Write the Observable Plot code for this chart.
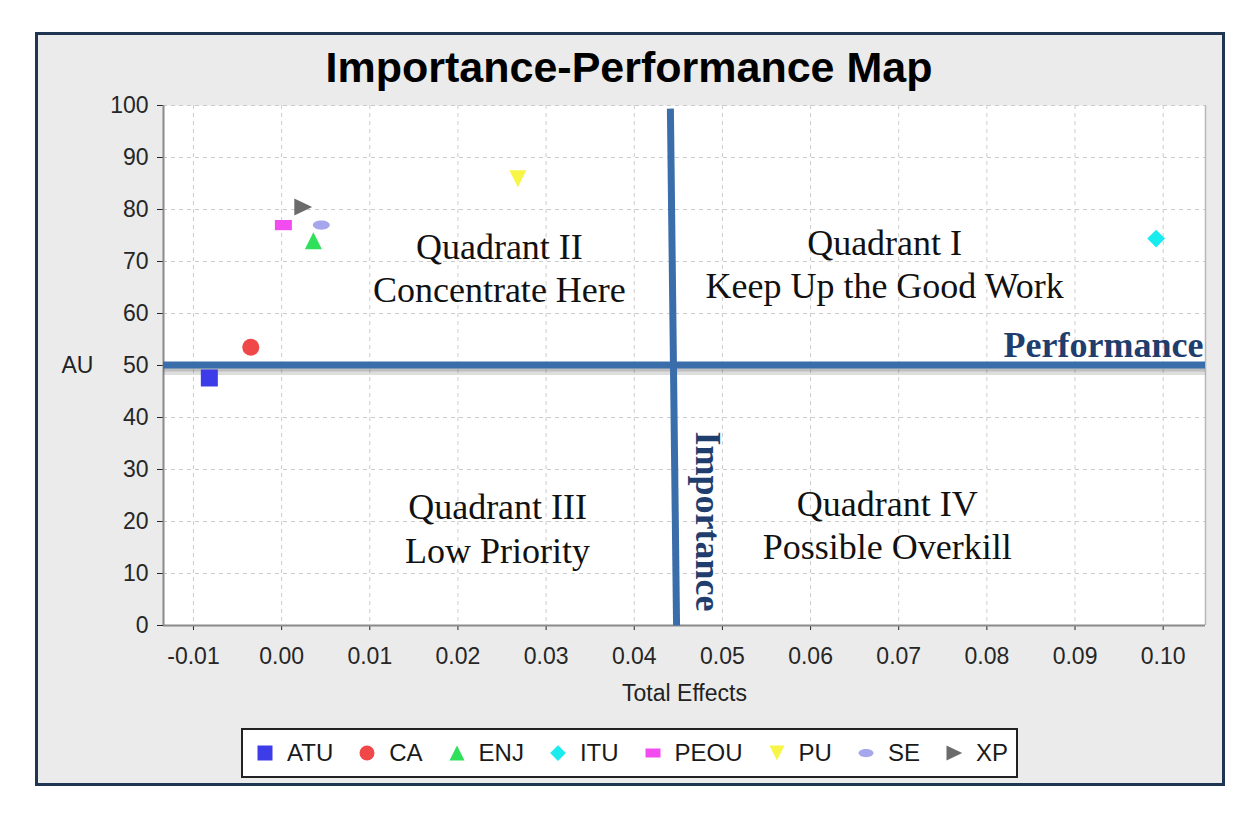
<!DOCTYPE html>
<html>
<head>
<meta charset="utf-8">
<script src="https://cdn.jsdelivr.net/npm/d3@7"></script>
<script src="https://cdn.jsdelivr.net/npm/@observablehq/plot@0.6"></script>
<style>
  html, body { margin: 0; padding: 0; background: #fff; width: 1252px; height: 815px; overflow: hidden; }
  #panel { position: absolute; left: 35px; top: 32px; width: 1184px; height: 748px; background: #ebebeb; border: 3px solid #1f3552; }
  #title { position: absolute; left: 36px; width: 1186px; top: 41px; text-align: center; font: 700 43px/52px "Liberation Sans", Arial, sans-serif; color: #000; }
  #chart { position: absolute; left: 36px; top: 95px; }
  #legend { position: absolute; left: 241px; top: 728px; width: 777px; height: 50px; box-sizing: border-box; border: 2px solid #222; background: #fff; display: flex; align-items: center; padding-left: 12px; font: 24px "Liberation Sans", Arial, sans-serif; color: #1a1a1a; }
  #legend .item { display: flex; align-items: center; margin-right: 24px; }
  #legend svg { width: 20px; height: 20px; margin-right: 12px; }
</style>
</head>
<body>
<div id="panel"></div>
<div id="title">Importance-Performance Map</div>
<div id="chart"></div>
<div id="legend"></div>
<script>
// Constructs: total effect on AU (importance) and their performance score
const names = ["ATU", "CA", "ENJ", "ITU", "PEOU", "PU", "SE", "XP"];
const totalEffects = [-0.0082, -0.0035, 0.0036, 0.0992, 0.0002, 0.0268, 0.0045, 0.0024];
const performance = [47.6, 53.5, 74.0, 74.4, 77.0, 85.9, 77.0, 80.5];

// Axis ticks
const xTicks = [-0.01, 0.00, 0.01, 0.02, 0.03, 0.04, 0.05, 0.06, 0.07, 0.08, 0.09, 0.10];
const yTicks = [0, 10, 20, 30, 40, 50, 60, 70, 80, 90, 100];

// Quadrant divider lines (drawn by hand on the map)
const importanceSplitX = [0.0441, 0.0448];
const importanceSplitY = [99.4, 0];
const performanceSplit = 50.1;

// Quadrant annotations
const quadrantText = ["Quadrant I\nKeep Up the Good Work", "Quadrant II\nConcentrate Here", "Quadrant III\nLow Priority", "Quadrant IV\nPossible Overkill"];
const quadrantX = [0.0684, 0.0247, 0.0245, 0.0687];
const quadrantY = [69.7, 69.0, 18.9, 19.6];

const palette = ["#3c3ce8", "#f04848", "#2ee05a", "#19ecef", "#f24cf0", "#f7f545", "#a6a6ec", "#6b6b6b"];

// Marker shapes (d3 symbol-type objects)
const rOf = s => Math.sqrt(s / Math.PI);
const shapes = [
  {draw(c, s) { const r = rOf(s); c.rect(-r, -r, 2 * r, 2 * r); }},
  {draw(c, s) { const r = rOf(s); c.moveTo(r, 0); c.arc(0, 0, r, 0, 2 * Math.PI); }},
  {draw(c, s) { const r = rOf(s); c.moveTo(0, -r); c.lineTo(r, r); c.lineTo(-r, r); c.closePath(); }},
  {draw(c, s) { const r = rOf(s) * 1.05; c.moveTo(0, -r); c.lineTo(r, 0); c.lineTo(0, r); c.lineTo(-r, 0); c.closePath(); }},
  {draw(c, s) { const r = rOf(s); c.rect(-r, -r * 0.6, 2 * r, r * 1.2); }},
  {draw(c, s) { const r = rOf(s); c.moveTo(-r, -r); c.lineTo(r, -r); c.lineTo(0, r); c.closePath(); }},
  {draw(c, s) { const rx = rOf(s), ry = rx * 0.55, k = 0.5523;
    c.moveTo(rx, 0);
    c.bezierCurveTo(rx, ry * k, rx * k, ry, 0, ry);
    c.bezierCurveTo(-rx * k, ry, -rx, ry * k, -rx, 0);
    c.bezierCurveTo(-rx, -ry * k, -rx * k, -ry, 0, -ry);
    c.bezierCurveTo(rx * k, -ry, rx, -ry * k, rx, 0);
    c.closePath(); }},
  {draw(c, s) { const r = rOf(s); c.moveTo(-r, -r); c.lineTo(r * 1.1, 0); c.lineTo(-r, r); c.closePath(); }}
];

const rows = names.map((name, i) => ({name, effect: totalEffects[i], perf: performance[i]}));
const quadrants = quadrantText.map((text, i) => ({text, x: quadrantX[i], y: quadrantY[i]}));
const importanceLine = importanceSplitX.map((x, i) => ({x, y: importanceSplitY[i]}));

const xDomain = [-0.0134, 0.1048];
const lineBlue = "#3a6eab";
const navy = "#1f3d6d";
const serif = "'Liberation Serif', 'Times New Roman', serif";
const gridStyle = {stroke: "#cccccc", strokeDasharray: "4,4", strokeWidth: 1};

const chart = Plot.plot({
  width: 1186,
  height: 625,
  marginLeft: 127,
  marginRight: 17,
  marginTop: 10,
  marginBottom: 95,
  style: {fontFamily: "'Liberation Sans', Arial, sans-serif", fontSize: "23px", color: "#262626", background: "transparent", overflow: "visible"},
  x: {domain: xDomain, ticks: xTicks, tickFormat: d => d.toFixed(2), tickSize: 5, tickPadding: 17, label: null},
  y: {domain: [0, 100], ticks: yTicks, tickSize: 6, tickPadding: 9, label: null},
  color: {domain: names, range: palette},
  symbol: {domain: names, range: shapes},
  marks: [
    Plot.frame({fill: "white", stroke: "none"}),
    Plot.ruleX(xTicks, gridStyle),
    Plot.ruleY(yTicks.slice(1), gridStyle),
    Plot.ruleX([xDomain[1]], {stroke: "#b8b8b8", strokeWidth: 1.5}),
    Plot.ruleX([xDomain[0]], {stroke: "#8a8a8a", strokeWidth: 2}),
    Plot.ruleY([0], {stroke: "#8a8a8a", strokeWidth: 2}),
    Plot.text(quadrants, {x: "x", y: "y", text: "text", fontFamily: serif, fontSize: 36, lineHeight: 1.2, fill: "#111"}),
    Plot.ruleY([performanceSplit], {dy: 6, stroke: "#666", strokeOpacity: 0.22, strokeWidth: 8}),
    Plot.ruleY([performanceSplit], {dy: 4, stroke: "#666", strokeOpacity: 0.25, strokeWidth: 5}),
    Plot.ruleY([performanceSplit], {stroke: lineBlue, strokeWidth: 7}),
    Plot.line(importanceLine, {x: "x", y: "y", stroke: lineBlue, strokeWidth: 7, strokeLinecap: "butt"}),
    Plot.text(["Performance"], {frameAnchor: "right", y: 53.9, dx: -2, text: d => d, textAnchor: "end", lineAnchor: "middle", fontFamily: serif, fontWeight: "bold", fontSize: 36, fill: navy}),
    Plot.text(["Importance"], {x: 0.0483, y: 20, rotate: 90, text: d => d, fontFamily: serif, fontWeight: "bold", fontSize: 36, fill: navy}),
    Plot.dot(rows, {x: "effect", y: "perf", fill: "name", symbol: "name", r: 8.5}),
    Plot.text(["AU"], {frameAnchor: "left", dx: -86, text: d => d, textAnchor: "middle", lineAnchor: "middle", fill: "#222"}),
    Plot.text(["Total Effects"], {frameAnchor: "bottom", dy: 68, text: d => d, textAnchor: "middle", lineAnchor: "middle", fill: "#222"})
  ]
});
document.getElementById("chart").appendChild(chart);

// Legend below the chart
const legend = document.getElementById("legend");
names.forEach((name, i) => {
  const item = document.createElement("div");
  item.className = "item";
  const path = d3.symbol().type(shapes[i]).size(Math.PI * 7.5 * 7.5)();
  item.innerHTML = `<svg viewBox="-10 -10 20 20"><path d="${path}" fill="${palette[i]}"></path></svg><span>${name}</span>`;
  legend.appendChild(item);
});
</script>
</body>
</html>
